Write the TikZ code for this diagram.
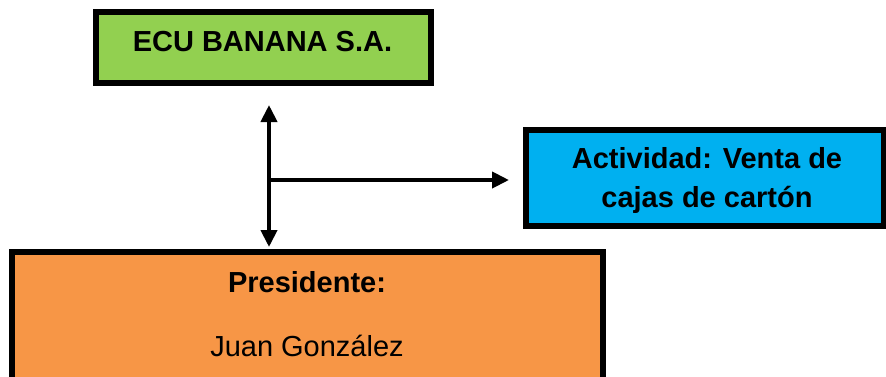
\documentclass[tikz,border=0pt]{standalone}
\usepackage{fontspec}
\setmainfont{Liberation Sans}
\usetikzlibrary{arrows.meta}
\definecolor{ccverde}{RGB}{146,208,80}
\definecolor{ccazul}{RGB}{0,176,240}
\definecolor{ccnaranja}{RGB}{247,150,70}

\begin{document}
\begin{tikzpicture}[x=1pt, y=-1pt]

  % Estilos
  \tikzstyle{caja} = [draw=black, line width=6pt, inner sep=0pt]
  \tikzstyle{texto} = [font=\fontsize{29}{39}\selectfont, align=center, anchor=base]
  \tikzstyle{flecha} = [-{Triangle[length=17pt, width=16pt]}, line width=4pt]
  \tikzstyle{dobleflecha} = [{Triangle[length=17pt, width=16pt]}-{Triangle[length=17pt, width=16pt]}, line width=4pt]

  \useasboundingbox (0,0) rectangle (886,376);
  \clip (0,0) rectangle (886,376);

  % Cajas
  \draw (263.5,47.5) node[caja, fill=ccverde, minimum width=335pt, minimum height=71pt] (ecu) {};
  \draw (705,177.5) node[caja, fill=ccazul, minimum width=358pt, minimum height=96pt] (act) {};
  \draw (307.25,326) node[caja, fill=ccnaranja, minimum width=591.5pt, minimum height=148pt] (pres) {};

  % Textos (base = ultima linea)
  \draw (262.5,51) node[texto] (ecutxt) {\textbf{ECU BANANA S.A.}};
  \draw (707,207) node[texto] (acttxt) {\textbf{Actividad: Venta de}\\\textbf{cajas de cartón}};
  \draw (307,356) node[texto] (prestxt) {\textbf{Presidente:}\\[25pt]Juan González};

  % ECU <-> Presidente
  \coordinate (tope) at (269,105);
  \draw[dobleflecha, shorten >=2pt] (tope) -- (tope |- pres.north);
  % -> Actividad
  \coordinate (cruce) at (269,180);
  \draw[flecha, shorten >=14pt] (cruce) -- (cruce -| act.west);

\end{tikzpicture}
\end{document}
